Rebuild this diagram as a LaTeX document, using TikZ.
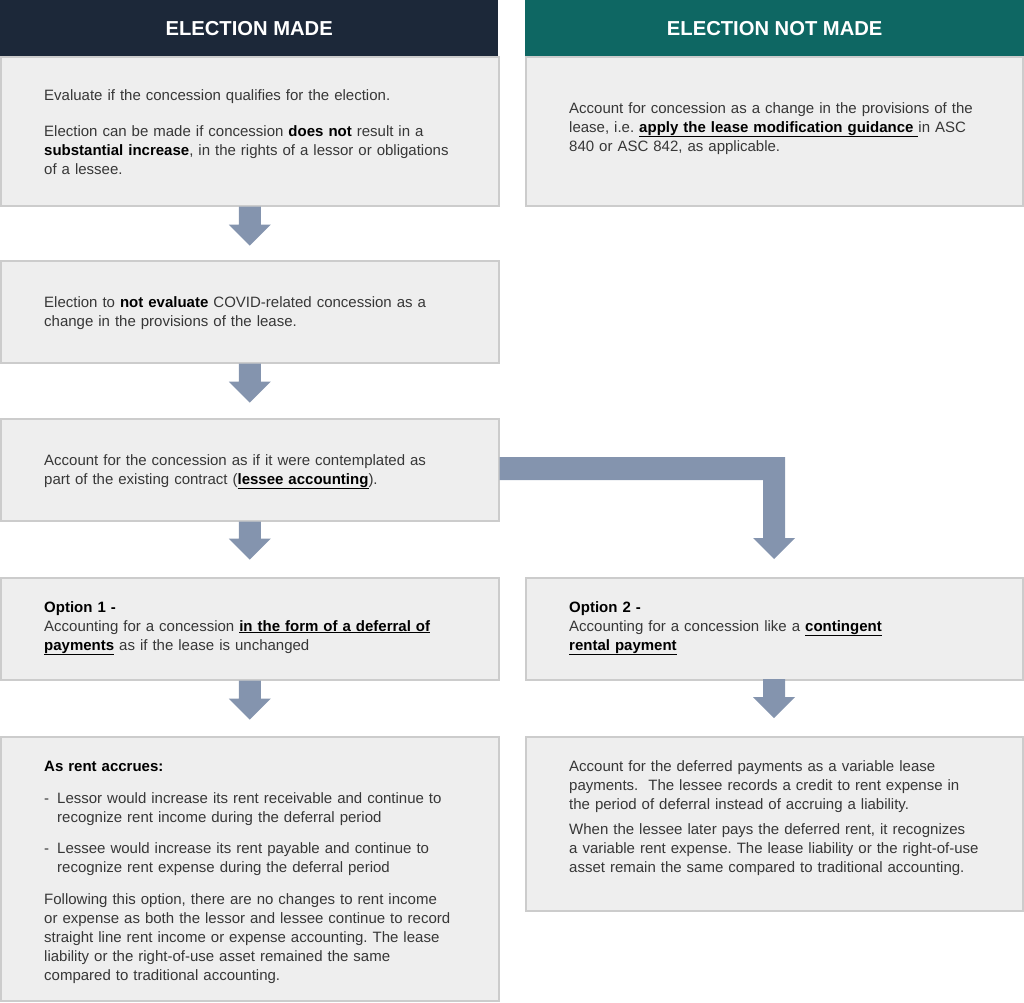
\documentclass[tikz,border=0pt]{standalone}
\usepackage{fontspec}
\setmainfont{Liberation Sans}
\usetikzlibrary{calc}
\frenchspacing
\definecolor{navy}{RGB}{28,40,57}
\definecolor{teal}{RGB}{14,103,99}
\definecolor{boxfill}{RGB}{238,238,238}
\definecolor{boxline}{RGB}{204,204,204}
\definecolor{arrowc}{RGB}{132,148,174}
\definecolor{txt}{RGB}{55,55,55}
\newcommand\myul[1]{\underline{#1}}
\newcommand\vblock[2]{%
  \fill[arrowc] let \p1=(#1), \p2=(#2) in
    (\x1-11pt,\y1) -- (\x1+11pt,\y1) -- (\x1+11pt,\y2+21pt) -- (\x1+21pt,\y2+21pt)
    -- (\x2,\y2) -- (\x1-21pt,\y2+21pt) -- (\x1-11pt,\y2+21pt) -- cycle;}
\begin{document}
\begin{tikzpicture}[x=1pt,y=1pt,
  box/.style={draw=boxline, line width=1.5pt, fill=boxfill, anchor=north west, inner sep=0},
  head/.style={anchor=north west, inner sep=0, text=white, font=\fontsize{20.2}{23}\selectfont\bfseries},
  body/.style={anchor=base west, inner sep=0, text width=470pt, align=left, text=txt,
     font=\fontsize{15}{19}\selectfont\frenchspacing}]
\useasboundingbox (0,0) rectangle (1024,-1002);
% headers
\node[head, fill=navy, minimum width=498, minimum height=56] (h1) at (0,0) {ELECTION MADE};
\node[head, fill=teal, minimum width=499, minimum height=56] (h2) at (525,0) {ELECTION NOT MADE};
% boxes
\node[box, minimum width=498, minimum height=149] (b1) at (0,-56) {};
\node[box, minimum width=497, minimum height=149] (r1) at (525,-56) {};
\node[box, minimum width=498, minimum height=102] (b2) at (0,-260) {};
\node[box, minimum width=498, minimum height=102] (b3) at (0,-418) {};
\node[box, minimum width=498, minimum height=102] (b4) at (0,-577) {};
\node[box, minimum width=497, minimum height=102] (r4) at (525,-577) {};
\node[box, minimum width=498, minimum height=264] (b5) at (0,-736) {};
\node[box, minimum width=497, minimum height=174] (r5) at (525,-736) {};
% texts
\node[body] (t1) at (44,-100) {Evaluate if the concession qualifies for the election.\\[17pt]
Election can be made if concession {\color{black}\textbf{does not}} result in a\\
{\color{black}\textbf{substantial increase}}, in the rights of a lessor or obligations\\
of a lessee.};
\node[body] (tr1) at (569,-113) {Account for concession as a change in the provisions of the\\
lease, i.e. {\color{black}\myul{\textbf{apply the lease modification guidance}\ }}in ASC\\
840 or ASC 842, as applicable.};
\node[body] (t2) at (44,-307) {Election to {\color{black}\textbf{not evaluate}} COVID-related concession as a\\
change in the provisions of the lease.};
\node[body] (t3) at (44,-465) {Account for the concession as if it were contemplated as\\
part of the existing contract ({\color{black}\myul{\textbf{lessee accounting}}}).};
\node[body] (t4) at (44,-612) {{\color{black}\textbf{Option 1 -}}\\
Accounting for a concession {\color{black}\myul{\textbf{in the form of a deferral of}}}\\
{\color{black}\myul{\textbf{payments}}} as if the lease is unchanged};
\node[body] (tr4) at (569,-612) {{\color{black}\textbf{Option 2 -}}\\
Accounting for a concession like a {\color{black}\myul{\textbf{contingent}}}\\
{\color{black}\myul{\textbf{rental payment}}}};
\node[body] (t5) at (44,-771) {{\color{black}\textbf{As rent accrues:}}\\[13pt]
\makebox[13pt][l]{-}Lessor would increase its rent receivable and continue to\\
\hspace*{13pt}recognize rent income during the deferral period\\[12pt]
\makebox[13pt][l]{-}Lessee would increase its rent payable and continue to\\
\hspace*{13pt}recognize rent expense during the deferral period\\[13pt]
Following this option, there are no changes to rent income\\
or expense as both the lessor and lessee continue to record\\
straight line rent income or expense accounting. The lease\\
liability or the right-of-use asset remained the same\\
compared to traditional accounting.};
\node[body] (tr5) at (569,-771) {Account for the deferred payments as a variable lease\\
payments.\ \ The lessee records a credit to rent expense in\\
the period of deferral instead of accruing a liability.\\[6pt]
When the lessee later pays the deferred rent, it recognizes\\
a variable rent expense. The lease liability or the right-of-use\\
asset remain the same compared to traditional accounting.};
% arrows
\coordinate (a1) at ($(b1.south)+(0,-39)$);
\coordinate (a2) at ($(b2.south)+(0,-39)$);
\coordinate (a3) at ($(b3.south)+(0,-38)$);
\coordinate (a4) at ($(b4.south)+(0,-39)$);
\coordinate (s4) at (774,-679);
\coordinate (a5) at (774,-718);
\vblock{b1.south}{a1}
\vblock{b2.south}{a2}
\vblock{b3.south}{a3}
\vblock{b4.south}{a4}
\vblock{s4}{a5}
% elbow arrow
\coordinate (e0) at (b3.east |- 0,-457);
\coordinate (e1) at (774,-559);
\fill[arrowc] let \p1=(e0), \p2=(e1) in
  (\x1,\y1) -- (\x2+11pt,\y1) -- (\x2+11pt,\y2+21pt) -- (\x2+21pt,\y2+21pt) -- (\x2,\y2)
  -- (\x2-21pt,\y2+21pt) -- (\x2-11pt,\y2+21pt) -- (\x2-11pt,\y1-23pt) -- (\x1,\y1-23pt) -- cycle;
\end{tikzpicture}
\end{document}
